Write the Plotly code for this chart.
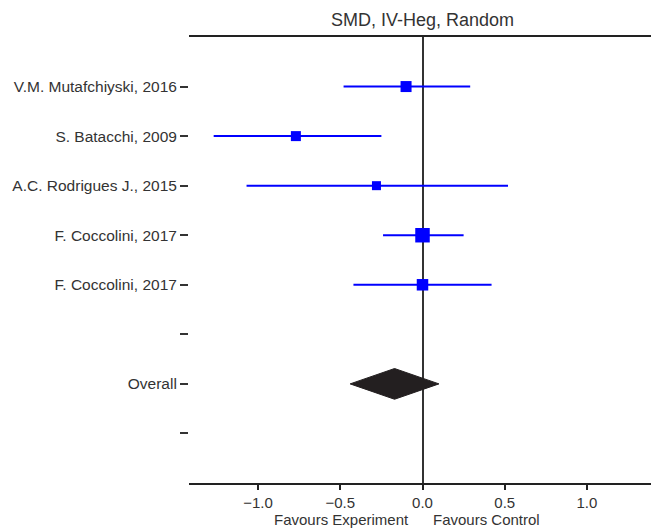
import plotly.graph_objects as go

# Data
studies = ["V.M. Mutafchiyski, 2016", "S. Batacchi, 2009", "A.C. Rodrigues J., 2015",
           "F. Coccolini, 2017", "F. Coccolini, 2017"]
smd = [-0.10, -0.77, -0.28, 0.00, 0.00]
ci_low = [-0.48, -1.27, -1.07, -0.24, -0.42]
ci_high = [0.29, -0.25, 0.52, 0.25, 0.42]
weights = [11, 10, 9, 14.5, 11.5]  # relative weights (square size)

overall_label = "Overall"
overall_est = -0.17
overall_low = -0.44
overall_high = 0.10

tick_vals_x = [-1.0, -0.5, 0.0, 0.5, 1.0]
tick_text_x = ["\u22121.0", "\u22120.5", "0.0", "0.5", "1.0"]

row_labels = studies + ["", overall_label, ""]
n_rows = len(row_labels)
row_pos = list(range(n_rows, 0, -1))  # top row has largest value
study_rows = row_pos[:len(studies)]
overall_row = row_pos[len(studies) + 1]

FONT = "Liberation Sans, Arial, Helvetica, sans-serif"
TXT = "#333333"
LINE = "#222222"
BLUE = "#0000ff"

fig = go.Figure()

# Study CIs and point estimates
fig.add_trace(go.Scatter(
    x=smd, y=study_rows, mode="markers",
    marker=dict(symbol="square", size=weights, color=BLUE, opacity=1, line=dict(width=0)),
    error_x=dict(type="data", symmetric=False,
                 array=[h - e for h, e in zip(ci_high, smd)],
                 arrayminus=[e - l for e, l in zip(smd, ci_low)],
                 color=BLUE, thickness=2, width=0),
    showlegend=False, hoverinfo="skip",
))

# Overall diamond
dh = 0.31
fig.add_trace(go.Scatter(
    x=[overall_low, overall_est, overall_high, overall_est, overall_low],
    y=[overall_row, overall_row + dh, overall_row, overall_row - dh, overall_row],
    mode="lines", fill="toself", fillcolor="#231f20",
    line=dict(color="#231f20", width=1), showlegend=False, hoverinfo="skip",
))

# The page body adds an 8px margin, so the figure is 8px smaller on each side used.
fig.update_layout(
    width=651, height=520,
    margin=dict(l=181, r=3, t=29, b=45),
    plot_bgcolor="white", paper_bgcolor="white",
    font=dict(family=FONT, size=15, color=TXT),
    xaxis=dict(
        range=[-1.42, 1.42], tickvals=tick_vals_x, ticktext=tick_text_x,
        showgrid=False, showline=True, mirror=True, linecolor=LINE, linewidth=2,
        ticks="outside", ticklen=5, tickwidth=1.5, tickcolor=LINE,
        zeroline=True, zerolinecolor="#333333", zerolinewidth=2,
        tickfont=dict(size=15, color=TXT),
    ),
    yaxis=dict(
        range=[0, n_rows + 1], tickvals=row_pos, ticktext=row_labels,
        showgrid=False, showline=False, zeroline=False,
        ticks="outside", ticklen=8, tickwidth=1.5, tickcolor=TXT,
        tickfont=dict(size=15.5, color=TXT),
    ),
    annotations=[
        dict(text="SMD, IV-Heg, Random", x=0, xref="x", y=1, yref="paper",
             yanchor="bottom", xanchor="center", yshift=5, showarrow=False,
             font=dict(size=18, color=TXT)),
        dict(text="Favours Experiment", x=0, xref="x", y=0, yref="paper",
             xanchor="right", yanchor="top", xshift=-12, yshift=-26, showarrow=False,
             font=dict(size=15, color=TXT)),
        dict(text="Favours Control", x=0, xref="x", y=0, yref="paper",
             xanchor="left", yanchor="top", xshift=8, yshift=-26, showarrow=False,
             font=dict(size=15, color=TXT)),
    ],
)

fig.write_html("out.html")
